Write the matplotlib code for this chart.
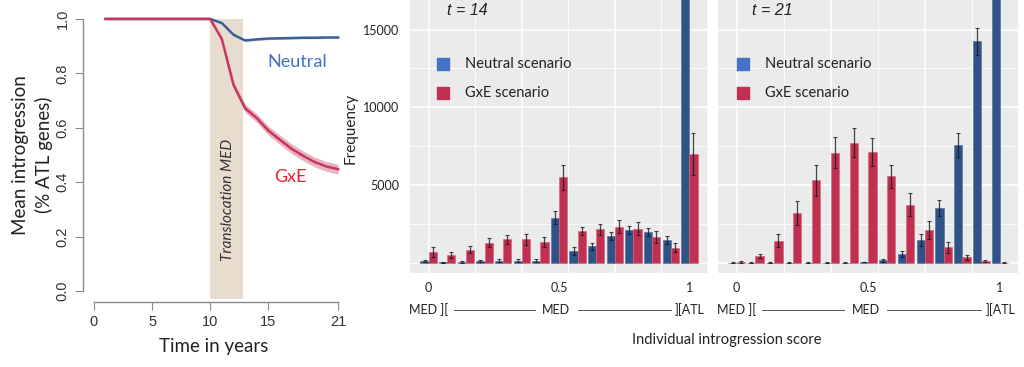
import numpy as np
import matplotlib.pyplot as plt
from matplotlib.ticker import MultipleLocator

# ---- left panel: mean introgression through time ----
years = [1, 2, 3, 4, 5, 6, 7, 8, 9, 10, 11, 12, 13, 14, 15, 16, 17, 18, 19, 20, 21]
neutral_mean = [1.0, 1.0, 1.0, 1.0, 1.0, 1.0, 1.0, 1.0, 1.0, 1.0,
                0.985, 0.942, 0.921, 0.925, 0.928, 0.929, 0.930, 0.931, 0.931, 0.932, 0.932]
neutral_sd = [0.0, 0.0, 0.0, 0.0, 0.0, 0.0, 0.0, 0.0, 0.0, 0.0,
              0.003, 0.004, 0.004, 0.004, 0.004, 0.004, 0.004, 0.004, 0.004, 0.004, 0.004]
gxe_mean = [1.0, 1.0, 1.0, 1.0, 1.0, 1.0, 1.0, 1.0, 1.0, 1.0,
            0.926, 0.758, 0.672, 0.636, 0.590, 0.556, 0.523, 0.497, 0.474, 0.458, 0.448]
gxe_sd = [0.0, 0.0, 0.0, 0.0, 0.0, 0.0, 0.0, 0.0, 0.0, 0.0,
          0.010, 0.013, 0.015, 0.016, 0.017, 0.017, 0.018, 0.018, 0.018, 0.018, 0.018]
translocation = (10.0, 12.83)

# ---- histograms of individual introgression score ----
bins = list(range(15))
t14_neutral = [100, 50, 60, 100, 150, 150, 150, 2920, 760, 1080, 1730, 2100, 1990, 1470, 20000]
t14_neutral_err = [60, 30, 40, 60, 80, 80, 80, 430, 250, 220, 250, 250, 250, 250, 1000]
t14_gxe = [710, 520, 860, 1300, 1510, 1510, 1340, 5510, 2050, 2160, 2330, 2200, 1680, 970, 7020]
t14_gxe_err = [330, 180, 200, 280, 300, 330, 300, 800, 280, 350, 430, 400, 380, 280, 1350]

t21_neutral = [20, 20, 20, 20, 20, 20, 20, 60, 170, 560, 1470, 3530, 7580, 14250, 19000]
t21_neutral_err = [15, 15, 15, 15, 15, 15, 15, 30, 80, 200, 380, 500, 800, 870, 1000]
t21_gxe = [60, 450, 1430, 3200, 5300, 7070, 7740, 7110, 5560, 3740, 2120, 1000, 370, 110, 20]
t21_gxe_err = [50, 150, 400, 750, 1000, 1000, 950, 900, 750, 750, 600, 330, 150, 80, 20]

score_ticks = [0, 7, 14]
score_labels = ['0', '0.5', '1']

BLUE_BAR = '#2f5386'
RED_BAR = '#c03050'
BLUE_LEG = '#4472c4'

plt.rcParams['font.family'] = ['Lato', 'DejaVu Sans']

fig = plt.figure(figsize=(10.24, 3.67), dpi=100)

# ---------------- left panel ----------------
ax = fig.add_axes([0.081, 0.177, 0.256, 0.801])
yrs = np.array(years)
nm, ns = np.array(neutral_mean), np.array(neutral_sd)
gm, gs = np.array(gxe_mean), np.array(gxe_sd)

ax.fill_between(translocation, -0.027, 1.0, color='#e8dccf', lw=0, zorder=1)
ax.fill_between(yrs, nm - ns, nm + ns, color='#9fb2d4', alpha=0.7, lw=0, zorder=2)
ax.fill_between(yrs, gm - gs, gm + gs, color='#e3a0b3', alpha=0.8, lw=0, zorder=2)
ax.plot(yrs, nm, color='#3d5f96', lw=1.8, zorder=3)
ax.plot(yrs, gm, color='#c8365a', lw=1.8, zorder=4)

ax.set_xlim(-0.95, 21.6)
ax.set_ylim(-0.04, 1.04)
for s in ['top', 'right']:
    ax.spines[s].set_visible(False)
ax.spines['left'].set_bounds(0, 1)
ax.spines['bottom'].set_bounds(0, 21)
for s in ['left', 'bottom']:
    ax.spines[s].set_color('#8a8a8a')
    ax.spines[s].set_linewidth(1.0)
ax.set_xticks([0, 5, 10, 15, 21])
ax.set_xticklabels(['0', '5', '10', '15', '21'])
ax.set_yticks([0.0, 0.2, 0.4, 0.6, 0.8, 1.0])
ax.set_yticklabels(['0.0', '0.2', '0.4', '0.6', '0.8', '1.0'], rotation=90, va='center')
ax.tick_params(length=6, color='#8a8a8a', labelcolor='#333333', labelsize=10.5)
for lab in ax.get_xticklabels() + ax.get_yticklabels():
    lab.set_fontfamily('Liberation Sans')
ax.set_xlabel('Time in years', fontsize=13.5, color='#222222', labelpad=6)
ax.set_ylabel('Mean introgression\n(% ATL genes)', fontsize=13.5, color='#222222',
              linespacing=1.35)
ax.yaxis.set_label_coords(-0.115, 0.5)
ax.text(11.5, 0.335, 'Translocation MED', rotation=90, style='italic', fontsize=11,
        ha='center', va='center', color='#333333', zorder=5)
ax.text(17.5, 0.842, 'Neutral', color='#4472c4', fontsize=13, ha='center', va='center')
ax.text(16.9, 0.42, 'GxE', color='#e8202a', fontsize=13, ha='center', va='center')


# ---------------- histogram panels ----------------
def hist_panel(rect, neu, neu_err, gxe, gxe_err, title, show_y, lx, tx):
    a = fig.add_axes(rect)
    a.set_facecolor('#ebebeb')
    x = np.array(bins, dtype=float)
    w = 0.44
    ekw = dict(ecolor='#1a1a1a', elinewidth=0.9, capsize=1.2, capthick=0.8, alpha=0.8)
    a.bar(x - w / 2, neu, w, yerr=neu_err, color=BLUE_BAR, edgecolor='#5b78a8',
          linewidth=0.5, error_kw=ekw, zorder=3)
    a.bar(x + w / 2, gxe, w, yerr=gxe_err, color=RED_BAR, edgecolor='#d8677f',
          linewidth=0.5, error_kw=ekw, zorder=3)
    a.set_xlim(-1, 15)
    a.set_ylim(-650, 16900)
    a.xaxis.set_major_locator(MultipleLocator(5))
    a.xaxis.set_minor_locator(MultipleLocator(2.5))
    a.yaxis.set_major_locator(MultipleLocator(5000))
    a.yaxis.set_minor_locator(MultipleLocator(2500))
    a.grid(which='major', color='white', lw=1.1, zorder=0)
    a.grid(which='minor', color='white', lw=0.6, zorder=0)
    a.set_axisbelow(True)
    for s in a.spines.values():
        s.set_visible(False)
    a.tick_params(which='both', length=0, labelbottom=False)
    if show_y:
        a.set_yticks([5000, 10000, 15000])
        a.set_yticklabels(['5000', '10000', '15000'])
        a.tick_params(axis='y', labelsize=9, labelcolor='#222222', pad=8)
        a.set_ylabel('Frequency', fontsize=11, color='#222222')
        a.yaxis.set_label_coords(-0.175, 0.53)
    else:
        a.tick_params(axis='y', labelleft=False)
    a.text(tx, 0.99, title, transform=a.transAxes, style='italic', fontsize=11.5,
           ha='left', va='top', color='#222222',
           fontfamily='Liberation Sans')

    # legend drawn as squares + text
    for yy, col, lab in [(0.766, BLUE_LEG, 'Neutral scenario'), (0.66, RED_BAR, 'GxE scenario')]:
        a.scatter([lx], [yy], marker='s', s=80, color=col, transform=a.transAxes,
                  zorder=5, clip_on=False)
        a.text(lx + 0.074, yy, lab, transform=a.transAxes, fontsize=10.5,
               va='center', ha='left', color='#222222')

    # score axis labels underneath
    trans = a.get_xaxis_transform()
    for t, lab in zip(score_ticks, score_labels):
        a.text(t, -0.055, lab, transform=trans, ha='center', va='center', fontsize=9,
               color='#222222')
    a.text(0, -0.135, 'MED ][', transform=trans, ha='center', va='center', fontsize=9,
           color='#222222')
    a.text(6.85, -0.135, 'MED', transform=trans, ha='center', va='center', fontsize=9,
           color='#222222')
    a.text(14, -0.135, '][ATL', transform=trans, ha='center', va='center', fontsize=9,
           color='#222222')
    a.plot([1.35, 5.7], [-0.135, -0.135], transform=trans, color='#555555', lw=0.7,
           clip_on=False)
    a.plot([8.0, 13.0], [-0.135, -0.135], transform=trans, color='#555555', lw=0.7,
           clip_on=False)
    return a


hist_panel([0.4004, 0.256, 0.291, 0.744], t14_neutral, t14_neutral_err, t14_gxe, t14_gxe_err,
           't = 14', True, 0.111, 0.124)
hist_panel([0.701, 0.256, 0.294, 0.744], t21_neutral, t21_neutral_err, t21_gxe, t21_gxe_err,
           't = 21', False, 0.083, 0.113)

fig.text(0.71, 0.073, 'Individual introgression score', ha='center', va='center',
         fontsize=10.5, color='#222222')

fig.savefig('out.png', dpi=100)
